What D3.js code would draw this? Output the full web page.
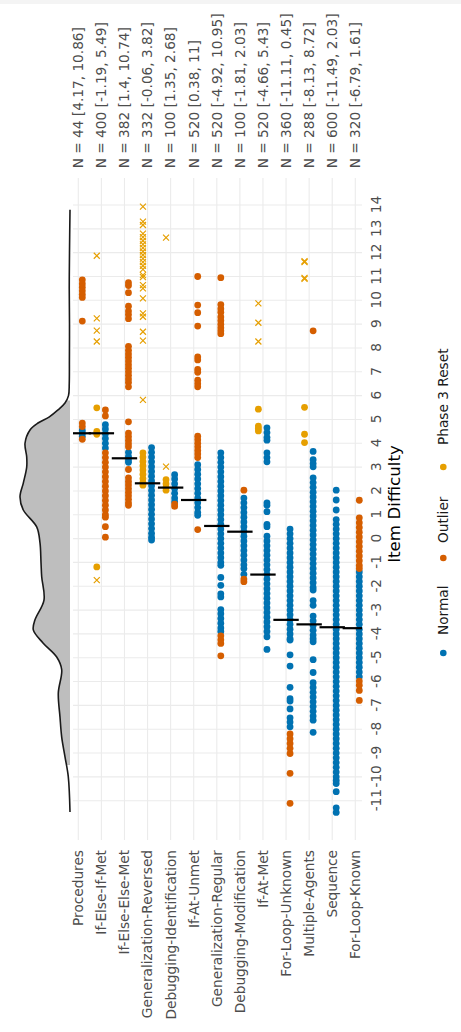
<!DOCTYPE html>
<html>
<head>
<meta charset="UTF-8">
<title>Item Difficulty</title>
<style>
  body { margin: 0; background: #fff; }
  svg { display: block; }
  svg text { font-family: "DejaVu Sans", sans-serif; }
  .grid line { stroke: #ebebeb; stroke-width: 1.1; }
  .axis text { fill: #4d4d4d; font-size: 13.7px; font-family: "DejaVu Sans", sans-serif; }
</style>
</head>
<body>
<svg id="chart" width="461" height="1032"></svg>
<script src="https://d3js.org/d3.v7.min.js"></script>
<script>
// categories, top to bottom in the unrotated plot
const categories = ["Procedures", "If-Else-If-Met", "If-Else-Else-Met", "Generalization-Reversed",
  "Debugging-Identification", "If-At-Unmet", "Generalization-Regular", "Debugging-Modification",
  "If-At-Met", "For-Loop-Unknown", "Multiple-Agents", "Sequence", "For-Loop-Known"];
const nCounts = [44, 400, 382, 332, 100, 520, 520, 100, 520, 360, 288, 600, 320];
const rangeMin = [4.17, -1.19, 1.4, -0.06, 1.35, 0.38, -4.92, -1.81, -4.66, -11.11, -8.13, -11.49, -6.79];
const rangeMax = [10.86, 5.49, 10.74, 3.82, 2.68, 11, 10.95, 2.03, 5.43, 0.45, 8.72, 2.03, 1.61];
const meanDifficulty = [4.42, 4.42, 3.37, 2.32, 2.14, 1.62, 0.53, 0.29, -1.51, -3.41, -3.6, -3.72, -3.76];
const difficultyTicks = [-11, -10, -9, -8, -7, -6, -5, -4, -3, -2, -1, 0, 1, 2, 3, 4, 5, 6, 7, 8, 9, 10, 11, 12, 13, 14];

// item difficulties per category
const normalPts = [
  [4.55, 4.42, 4.3],
  [4.78, 4.6, 4.4, 4.2, 4.0, 3.8],
  [3.62, 3.45, 3.3, 3.2],
  [3.82, 3.62, 3.42, 3.22, 3.02, 2.82, 2.62, 2.42, 2.22, 2.02, 1.82, 1.62, 1.42, 1.22, 1.02, 0.82, 0.62, 0.42, 0.22, 0.06, -0.06],
  [2.68, 2.5, 2.3, 2.1, 1.9, 1.7, 1.55],
  [3.1, 2.9, 2.7, 2.5, 2.3, 2.1, 1.9, 1.7, 1.5, 1.3, 1.1, 0.98],
  [3.6, 3.4, 3.2, 3.0, 2.8, 2.6, 2.4, 2.2, 2.0, 1.8, 1.6, 1.4, 1.2, 1.0, 0.8, 0.6, 0.4, 0.2, 0, -0.2, -0.4, -0.6, -0.8, -1.0, -1.12,
   -1.63, -1.96, -2.32, -2.45, -2.98, -3.15, -3.35, -3.55, -3.75, -3.9],
  [1.7, 1.5, 1.3, 1.1, 0.9, 0.7, 0.5, 0.3, 0.1, -0.1, -0.3, -0.5, -0.7, -0.9, -1.1, -1.26, -1.5],
  [4.65, 4.45, 4.25, 4.13, 3.6, 3.4, 3.22, 1.5, 1.4, 1.13, 0.6, 0.5, 0.1, -0.1, -0.3, -0.5, -0.7, -0.9, -1.1, -1.3, -1.5,
   -1.7, -1.9, -2.1, -2.3, -2.5, -2.7, -2.9, -3.1, -3.3, -3.5, -3.7, -3.9, -4.12, -4.65],
  [0.4, 0.2, 0, -0.2, -0.4, -0.6, -0.8, -1.0, -1.2, -1.4, -1.6, -1.8, -2.0, -2.2, -2.4, -2.6, -2.8, -3.0, -3.2, -3.4,
   -3.6, -3.8, -4.0, -4.2, -4.26, -4.88, -5.35, -6.24, -6.72, -6.82, -7.15, -7.52, -7.7, -7.9],
  [3.66, 3.31, 3.15, 3.01, 2.55, 2.35, 2.15, 1.95, 1.75, 1.55, 1.35, 1.15, 0.95, 0.75, 0.55, 0.35, 0.15, -0.05, -0.25,
   -0.45, -0.65, -0.85, -1.05, -1.25, -1.45, -1.65, -1.85, -2.05, -2.16, -2.6, -2.8, -3.25, -3.45, -3.65, -3.85, -4.05,
   -4.2, -4.33, -5.08, -5.62, -6.05, -6.25, -6.45, -6.65, -6.85, -7.05, -7.25, -7.45, -7.62, -8.13],
  [2.03, 1.62, 1.2, 0.8, 0.6, 0.4, 0.2, 0, -0.2, -0.4, -0.6, -0.8, -1.0, -1.2, -1.4, -1.6, -1.8, -2.0, -2.2, -2.4, -2.6,
   -2.8, -3.0, -3.2, -3.4, -3.6, -3.8, -4.0, -4.2, -4.4, -4.6, -4.8, -5.0, -5.2, -5.4, -5.6, -5.8, -6.0, -6.2, -6.4,
   -6.6, -6.8, -7.0, -7.2, -7.4, -7.6, -7.8, -8.0, -8.2, -8.4, -8.6, -8.8, -9.0, -9.2, -9.4, -9.6, -9.8, -10.0, -10.15,
   -10.28, -10.62, -11.3, -11.49],
  [-1.4, -1.6, -1.8, -2.0, -2.2, -2.4, -2.6, -2.8, -3.0, -3.2, -3.4, -3.6, -3.8, -4.0, -4.2, -4.4, -4.6, -4.8, -5.0,
   -5.2, -5.4, -5.6, -5.8]
];
const outlierPts = [
  [10.86, 10.7, 10.55, 10.4, 10.25, 10.12, 9.13, 4.85, 4.7, 4.17],
  [5.4, 5.15, 3.6, 3.4, 3.2, 3.0, 2.8, 2.6, 2.4, 2.2, 2.0, 1.8, 1.6, 1.4, 1.2, 1.0, 0.9, 0.5, 0.06],
  [10.74, 10.62, 10.32, 9.75, 9.55, 9.4, 9.23, 8.07, 7.9, 7.75, 7.6, 7.45, 7.3, 7.15, 7.0, 6.85, 6.7, 6.55, 6.37,
   4.9, 4.43, 4.28, 4.13, 3.98, 3.85, 2.9, 2.55, 2.4, 2.25, 2.1, 1.95, 1.8, 1.65, 1.5, 1.4],
  [],
  [1.45, 1.35],
  [11, 9.8, 9.48, 8.92, 7.62, 7.5, 7.1, 6.98, 6.65, 6.5, 6.37, 4.3, 4.15, 4.0, 3.85, 3.7, 3.55, 3.4, 0.38],
  [10.95, 9.82, 9.65, 9.5, 9.3, 9.15, 9.0, 8.85, 8.72, 8.6, -4.08, -4.25, -4.4, -4.92],
  [2.03, -1.7, -1.81],
  [],
  [-8.2, -8.4, -8.6, -8.8, -9.02, -9.85, -11.11],
  [8.72],
  [],
  [1.61, 0.87, 0.67, 0.47, 0.27, 0.07, -0.13, -0.33, -0.53, -0.73, -0.93, -1.13, -1.26, -5.98, -6.15, -6.37, -6.79]
];
const resetPts = [
  [], [5.49, 4.5, 4.38, -1.19], [], [3.6, 3.42, 3.24, 3.06, 2.88, 2.7, 2.52, 2.36, 2.24], [2.47, 2.3, 2.15, 2.03],
  [], [], [], [5.43, 4.72, 4.62, 4.52], [], [5.51, 4.38, 4.03], [], []
];
const resetCrosses = [
  [], [11.87, 9.24, 8.73, 8.27, -1.74], [],
  [13.93, 13.3, 13.16, 12.8, 12.65, 12.5, 12.35, 12.2, 12.05, 11.9, 11.75, 11.6, 11.45, 11.3, 11.06, 10.97, 10.64,
   10.5, 10.08, 9.45, 9.31, 8.68, 8.31, 5.82],
  [12.63, 3.02], [], [], [], [9.87, 9.06, 8.27], [], [11.64, 11.6, 10.94, 10.9], [], []
];

// marginal density of all difficulties (relative height)
const densityX = [13.8, 12, 10.5, 9, 7.5, 6.5, 6.0, 5.69, 5.4, 5.1, 4.85, 4.56, 4.0, 3.43, 3.0, 2.33, 1.75, 1.2, 0.49,
  -0.18, -1.0, -1.6, -2.58, -3.41, -3.83, -4.38, -4.97, -5.5, -6.48, -7.49, -8.33, -9.16, -10.0, -11.47];
const densityY = [0, 0.01, 0.015, 0.01, 0.012, 0.015, 0.03, 0.1, 0.24, 0.42, 0.64, 0.8, 0.9, 0.866, 0.866, 0.934, 1.0,
  0.934, 0.666, 0.6, 0.58, 0.566, 0.52, 0.7, 0.734, 0.54, 0.266, 0.166, 0.234, 0.2, 0.166, 0.1, 0.034, 0];
const densityFill = [-9.5, 5.8];

const legendLabels = ["Normal", "Outlier", "Phase 3 Reset"];
const colors = { "Normal": "#0072B2", "Outlier": "#D55E00", "Phase 3 Reset": "#E69F00" };

// the plot is built landscape (1032 x 461) and turned a quarter to the left
const W = 1032;
const svg = d3.select("#chart");
svg.append("rect").attr("width", 461).attr("height", 4).attr("fill", "#f4f4f4");

const g = svg.append("g").attr("transform", "translate(0," + W + ") rotate(-90)");

const panel = { x0: 192, x1: 854, y0: 73, y1: 362 };

const x = d3.scaleLinear().domain([-11, 14]).range([231.3, 827]);
const y = d3.scalePoint().domain(categories).range([78.3, 355.3]);

g.append("clipPath").attr("id", "clip")
  .append("rect")
  .attr("x", panel.x0).attr("y", panel.y0)
  .attr("width", panel.x1 - panel.x0).attr("height", panel.y1 - panel.y0);

// grid
const grid = g.append("g").attr("class", "grid");
grid.selectAll(".gx").data(difficultyTicks).join("line")
  .attr("x1", d => x(d)).attr("x2", d => x(d))
  .attr("y1", panel.y0).attr("y2", panel.y1);
grid.selectAll(".gy").data(categories).join("line")
  .attr("y1", d => y(d)).attr("y2", d => y(d))
  .attr("x1", panel.x0).attr("x2", panel.x1);

// density on top (left when turned)
const baseY = 70, densH = 50;
const area = d3.area()
  .x((d, i) => x(densityX[i]))
  .y0(baseY)
  .y1((d, i) => baseY - densH * densityY[i])
  .curve(d3.curveCatmullRom);
g.append("clipPath").attr("id", "fillclip")
  .append("rect")
  .attr("x", x(densityFill[0])).attr("y", 0)
  .attr("width", x(densityFill[1]) - x(densityFill[0])).attr("height", baseY + 1);
g.append("path")
  .attr("d", area(densityX))
  .attr("fill", "#bebebe")
  .attr("clip-path", "url(#fillclip)");
g.append("path")
  .attr("d", area.lineY1()(densityX))
  .attr("fill", "none")
  .attr("stroke", "#1a1a1a")
  .attr("stroke-width", 1.6);

// points
const pts = g.append("g");
const dodgeMain = 4.0, dodgeReset = -4.6, rDot = 3.4;
function flat(arr, cls) {
  const out = [];
  arr.forEach((vals, i) => vals.forEach(v => out.push({ cat: categories[i], v: v, cls: cls })));
  return out;
}
pts.selectAll(".normal").data(flat(normalPts, "Normal")).join("circle")
  .attr("cx", d => x(d.v)).attr("cy", d => y(d.cat) + dodgeMain)
  .attr("r", rDot).attr("fill", colors.Normal);
pts.selectAll(".outlier").data(flat(outlierPts, "Outlier")).join("circle")
  .attr("cx", d => x(d.v)).attr("cy", d => y(d.cat) + dodgeMain)
  .attr("r", rDot).attr("fill", colors.Outlier);
pts.selectAll(".reset").data(flat(resetPts, "Phase 3 Reset")).join("circle")
  .attr("cx", d => x(d.v)).attr("cy", d => y(d.cat) + dodgeReset)
  .attr("r", rDot).attr("fill", colors["Phase 3 Reset"]);
pts.selectAll(".cross").data(flat(resetCrosses, "Phase 3 Reset")).join("path")
  .attr("transform", d => "translate(" + x(d.v) + "," + (y(d.cat) + dodgeReset) + ")")
  .attr("d", "M-3,-3L3,3M-3,3L3,-3")
  .attr("stroke", colors["Phase 3 Reset"]).attr("stroke-width", 1.2).attr("fill", "none");

// mean marks
const half = y.step() * 0.55;
g.append("g").attr("clip-path", "url(#clip)")
  .selectAll("line").data(categories).join("line")
  .attr("x1", (d, i) => x(meanDifficulty[i])).attr("x2", (d, i) => x(meanDifficulty[i]))
  .attr("y1", d => y(d) - half).attr("y2", d => y(d) + half)
  .attr("stroke", "#000").attr("stroke-width", 2.2);

// N labels
g.append("g").selectAll("text").data(categories).join("text")
  .attr("x", 863.7).attr("y", d => y(d)).attr("dy", "0.35em")
  .attr("fill", "#4d4d4d").style("font-size", "13.7px")
  .text((d, i) => "N = " + nCounts[i] + " [" + rangeMin[i] + ", " + rangeMax[i] + "]");

// axes
const xAxis = g.append("g").attr("class", "axis")
  .attr("transform", "translate(0,380.5)")
  .call(d3.axisBottom(x).tickValues(difficultyTicks).tickSize(0).tickFormat(d => String(d)));
xAxis.select(".domain").remove();
xAxis.selectAll("text").attr("y", 0).attr("dy", 0);

const yAxis = g.append("g").attr("class", "axis")
  .attr("transform", "translate(182,0)")
  .call(d3.axisLeft(y).tickSize(0).tickPadding(0));
yAxis.select(".domain").remove();

g.append("text")
  .attr("x", 528).attr("y", 399.5)
  .attr("text-anchor", "middle")
  .style("font-size", "16.7px").attr("fill", "#000")
  .text("Item Difficulty");

// legend
const legendX = [379, 474, 565];
const legend = g.append("g").selectAll("g").data(legendLabels).join("g")
  .attr("transform", (d, i) => "translate(" + legendX[i] + ",443.3)");
legend.append("circle").attr("r", 3.3).attr("fill", d => colors[d]);
legend.append("text").attr("x", d => d === "Phase 3 Reset" ? 22 : (d === "Normal" ? 18 : 15))
  .attr("dy", "0.35em").style("font-size", "13.7px").attr("fill", "#1a1a1a")
  .text(d => d);
</script>
</body>
</html>
